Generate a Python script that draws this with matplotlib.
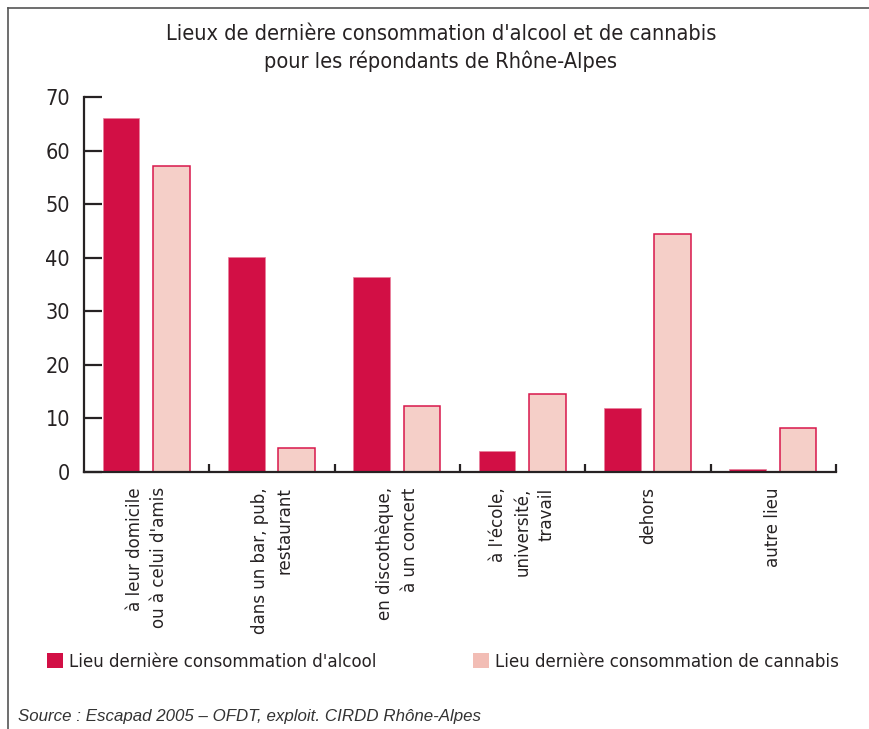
import matplotlib
matplotlib.use('Agg')
import matplotlib.pyplot as plt
from matplotlib.patches import Patch
from matplotlib.lines import Line2D
import numpy as np

# lieux de derniere consommation (% des repondants)
categories = ["à leur domicile\nou à celui d'amis",
              "dans un bar, pub,\nrestaurant",
              "en discothèque,\nà un concert",
              "à l'école,\nuniversité,\ntravail",
              "dehors",
              "autre lieu"]
alcool = [66.0, 40.2, 36.4, 4.0, 11.9, 0.5]
cannabis = [57.1, 4.5, 12.4, 14.6, 44.4, 8.2]
yticks = [0, 10, 20, 30, 40, 50, 60, 70]
series = ["Lieu dernière consommation d'alcool",
          "Lieu dernière consommation de cannabis"]
title = "Lieux de dernière consommation d'alcool et de cannabis\npour les répondants de Rhône-Alpes"
source = "Source : Escapad 2005 – OFDT, exploit. CIRDD Rhône-Alpes"

c_alc = '#d20f45'
c_can = '#f5cfc8'
c_edge = '#d8174b'
txt = '#262223'

plt.rcParams['font.family'] = ['DejaVu Sans']
plt.rcParams['font.stretch'] = 'condensed'

W, H = 869, 729
fig = plt.figure(figsize=(W / 100, H / 100), dpi=100)

# cadre autour du graphique (haut et gauche)
fig.add_artist(Line2D([8 / W, 1], [1 - 8 / H, 1 - 8 / H], color='#555555', lw=1.2))
fig.add_artist(Line2D([8 / W, 8 / W], [0, 1 - 8 / H], color='#555555', lw=1.2))

ax = fig.add_axes([84 / W, 1 - 472 / H, (836 - 84) / W, 375 / H])
x = np.arange(len(categories))
b1 = ax.bar(x - 0.204, alcool, width=0.292, color=c_alc, edgecolor='#e9809c', linewidth=0.5)
b2 = ax.bar(x + 0.196, cannabis, width=0.292, color=c_can, edgecolor=c_edge, linewidth=1.1)

ax.set_xlim(-0.5, len(categories) - 0.5)
ax.set_ylim(0, 70)
for s in ['top', 'right']:
    ax.spines[s].set_visible(False)
for s in ['left', 'bottom']:
    ax.spines[s].set_linewidth(1.6)
    ax.spines[s].set_color(txt)

ax.set_yticks(yticks)
ax.tick_params(axis='y', direction='in', length=13, width=1.6, color=txt,
               labelsize=15.5, labelcolor=txt, pad=10)
ax.set_xticks(x)
ax.set_xticklabels(categories, rotation=90, fontsize=13.3, color=txt, linespacing=1.45)
for lbl in ax.get_xticklabels():
    lbl.set_multialignment('right')
ax.tick_params(axis='x', which='major', length=0, pad=11)
ax.set_xticks(np.arange(1, len(categories) + 1) - 0.5, minor=True)
ax.tick_params(axis='x', which='minor', direction='in', length=6, width=1.6, color=txt)

fig.text(441 / W, 1 - 48 / H, title, ha='center', va='center', fontsize=15.6,
         color=txt, linespacing=1.38)

# une legende par serie, placees cote a cote
for (fc, lab, x0) in [(c_alc, series[0], 47), ('#f2bdb5', series[1], 473)]:
    lg = fig.legend([Patch(facecolor=fc)], [lab], loc='center left',
                    bbox_to_anchor=(x0 / W, 1 - 662 / H), borderaxespad=0,
                    borderpad=0, frameon=False, fontsize=13.3, handlelength=0.85,
                    handleheight=0.85, handletextpad=0.35, labelcolor=txt)

fig.text(18 / W, 1 - 717 / H, source, ha='left', va='center', fontsize=12.2,
         style='italic', color='#333333', family='Liberation Sans', stretch='normal')

fig.savefig('out.png', dpi=100, facecolor='white')
